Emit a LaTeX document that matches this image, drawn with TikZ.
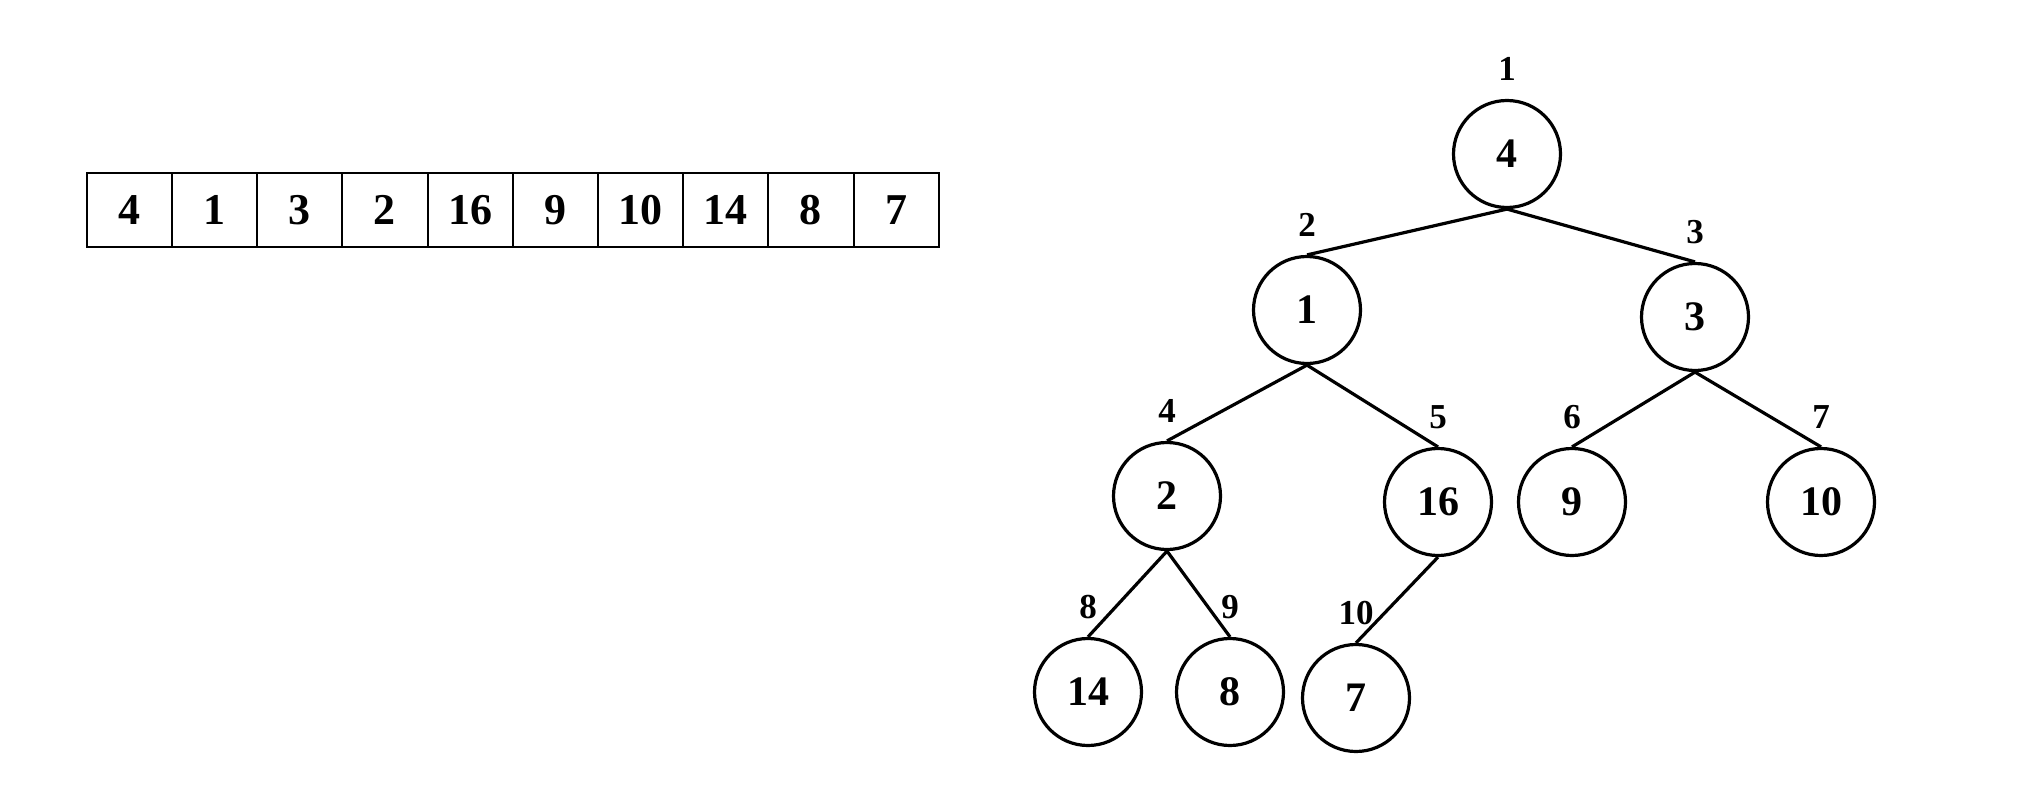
\documentclass[tikz,border=0pt]{standalone}
\usepackage{fontspec}
\setmainfont{Liberation Serif}
\usepackage{tikz}

\tikzset{
  cell/.style={draw, line width=1pt, minimum width=42.6pt, minimum height=37pt, inner sep=0pt, outer sep=0pt, font=\fontsize{22pt}{24pt}\selectfont\bfseries},
  heapnode/.style={draw, circle, line width=1.6pt, minimum size=53.5pt, inner sep=0pt, font=\fontsize{21pt}{23pt}\selectfont\bfseries},
  idx/.style={inner sep=0pt, font=\fontsize{17.5pt}{19pt}\selectfont\bfseries},
  edge/.style={line width=1.6pt}
}

\begin{document}
\begin{tikzpicture}[x=0.5pt,y=-0.5pt]
\useasboundingbox (0,0) rectangle (2018,808);

% the array
\foreach \i/\v in {1/4,2/1,3/3,4/2,5/16,6/9,7/10,8/14,9/8,10/7}
  \node[cell] (a\i) at ({86.7+85.2*(\i-0.5)},210) {\v};

% the heap
\foreach \i/\v/\x/\y in {1/4/1507/154, 2/1/1307/310, 3/3/1695/317,
    4/2/1167/496, 5/16/1438/502, 6/9/1572/502, 7/10/1821/502,
    8/14/1088/692, 9/8/1230/692, 10/7/1356/698}
{
  \node[heapnode] (n\i) at (\x,\y) {\v};
  \node[idx] (l\i) at ([yshift=15pt]n\i.north) {\i};
}

\foreach \p/\c in {1/2,1/3,2/4,2/5,3/6,3/7,4/8,4/9,5/10}
  \draw[edge] (n\p.south) -- (n\c.north);
\end{tikzpicture}
\end{document}
